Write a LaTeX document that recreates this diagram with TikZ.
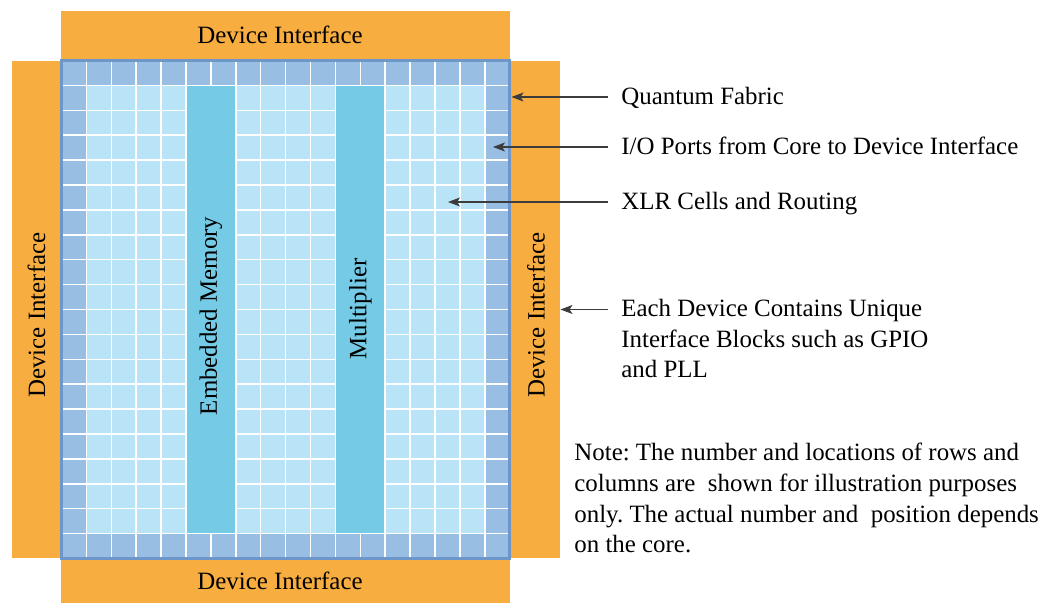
\documentclass[tikz,border=0pt]{standalone}
\usepackage{fontspec}
\setmainfont{Liberation Serif}
\usetikzlibrary{arrows.meta,positioning}

\definecolor{ifaceorange}{RGB}{248,173,65}
\definecolor{edgeblue}{RGB}{153,190,228}
\definecolor{cellblue}{RGB}{185,228,247}
\definecolor{blockblue}{RGB}{117,203,229}
\definecolor{rimblue}{RGB}{111,150,200}
\definecolor{pointergray}{RGB}{60,60,60}

\tikzset{
  iface/.style={fill=ifaceorange},
  gridline/.style={draw=white, line width=0.75pt},
  lbl/.style={font=\fontsize{12.45}{15.3}\selectfont\frenchspacing, inner sep=0pt},
  sidelbl/.style={lbl, anchor=base west, align=left},
  pointer/.style={draw=pointergray, line width=0.55pt,
    -{Stealth[length=6pt,width=4.5pt,inset=1.5pt]}},
}

\begin{document}
\begin{tikzpicture}[x=0.5pt, y=-0.5pt]
    \useasboundingbox (0,0) rectangle (1045,603);

    % device interface ring
    \path[iface] (61,11) rectangle (510,59);
    \path[iface] (61,560) rectangle (510,603);
    \path[iface] (12,61) rectangle (61,558);
    \path[iface] (510,61) rectangle (560,558);

    \node (ifnorth) [lbl] at (280,35) {Device Interface};
    \node (ifsouth) [lbl] at (280,581) {Device Interface};
    \node (ifwest) [lbl, rotate=90] at (36.5,315) {Device Interface};
    \node (ifeast) [lbl, rotate=90] at (536,315) {Device Interface};

    % quantum fabric, one unit = one cell
    \begin{scope}[shift={(61.5,60.5)}, x=12.45pt, y=-12.45pt]
      \fill[edgeblue] (0,0) rectangle (18,20);
      \fill[cellblue] (1,1) rectangle (17,19);
      \foreach \i in {1,...,17}
        \draw[gridline] (\i,0) -- (\i,20);
      \foreach \j in {1,...,19}
        \draw[gridline] (0,\j) -- (18,\j);
      \fill[blockblue] (5.03,1.03) rectangle (6.97,18.97);
      \fill[blockblue] (11.03,1.03) rectangle (12.97,18.97);
      \node (mem) [lbl, rotate=90] at (6,10.26) {Embedded Memory};
      \node (mult) [lbl, rotate=90] at (12,9.98) {Multiplier};
      \draw[rimblue, line width=1.5pt] (0,0) rectangle (18,20);
    \end{scope}

    % callouts (multi-line ones sit on their last baseline)
    \node (qf) [sidelbl] at (621,104.5) {Quantum Fabric};
    \node (io) [sidelbl] at (621,154.5) {I/O Ports from Core to Device Interface};
    \node (xlr) [sidelbl] at (621,209.5) {XLR Cells and Routing};
    \node (dev) [sidelbl] at (621,378) {Each Device Contains Unique\\Interface Blocks such as GPIO\\and PLL};
    \node (note) [sidelbl, font=\fontsize{12.45}{15.45}\selectfont\frenchspacing] at (574,553)
      {Note: The number and locations of rows and\\columns are\ \ shown for illustration purposes\\only. The actual number and\ \ position depends\\on the core.};

    \coordinate (qf-tip) at (511.5,97);
    \coordinate (io-tip) at (493,147);
    \coordinate (xlr-tip) at (448,202);
    \coordinate (dev-tip) at (560.5,309.5);

    \draw[pointer] ([shift={(-13,-7.5)}]qf.base west) -- (qf-tip);
    \draw[pointer] ([shift={(-13,-7.5)}]io.base west) -- (io-tip);
    \draw[pointer] ([shift={(-13,-7.5)}]xlr.base west) -- (xlr-tip);
    \draw[pointer] ([shift={(-13,-68.5)}]dev.base west) -- (dev-tip);
  \end{tikzpicture}
\end{document}
